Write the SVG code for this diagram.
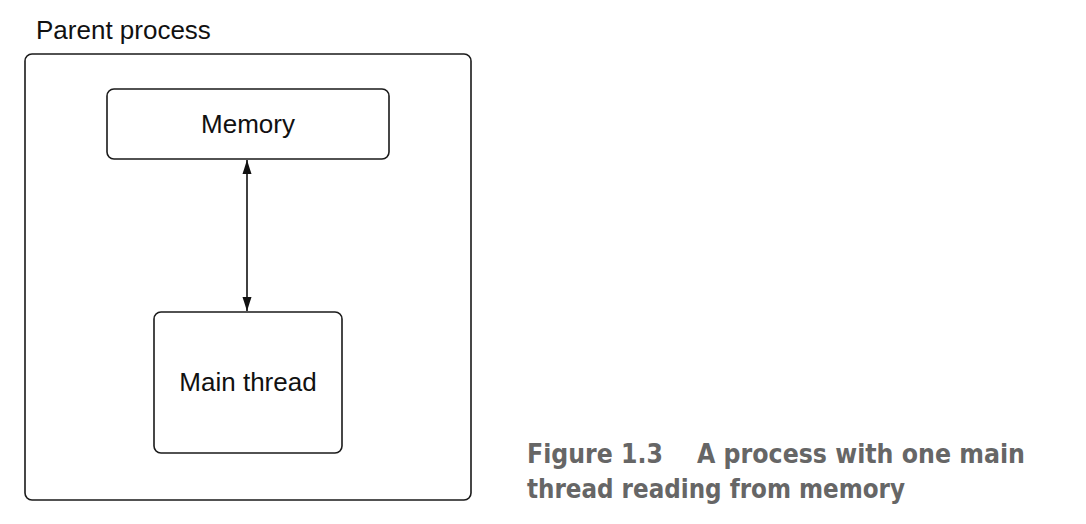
<svg xmlns="http://www.w3.org/2000/svg" width="1086" height="524" viewBox="0 0 1086 524">
<style>
.box{fill:#fff;stroke:#1a1a1a;stroke-width:1.6}
.lbl{font-family:"Liberation Sans",Arial,sans-serif;font-size:26px;fill:#111}
.cap{font-family:"DejaVu Sans Condensed","DejaVu Sans",sans-serif;font-weight:bold;font-size:26px;fill:#666}
.conn{stroke:#111;stroke-width:1.6;fill:none}
</style>
<defs>
<marker id="ah" viewBox="0 0 14 10" refX="14" refY="5" markerWidth="14" markerHeight="10" markerUnits="userSpaceOnUse" orient="auto-start-reverse">
<path d="M0,0.5 L14,5 L0,9.5 Z" fill="#111"/>
</marker>
</defs>
<rect width="1086" height="524" fill="#fff"/>
<g id="parent">
<text class="lbl" x="36" y="39">Parent process</text>
<rect class="box" x="25" y="54" width="446" height="446" rx="7"/>
</g>
<g id="memory">
<rect class="box" x="107" y="89" width="282" height="70" rx="7"/>
<text class="lbl" x="248" y="133" text-anchor="middle">Memory</text>
</g>
<g id="main-thread">
<rect class="box" x="154" y="312" width="188" height="141" rx="7"/>
<text class="lbl" x="248" y="391" text-anchor="middle">Main thread</text>
</g>
<g id="connectors">
<line class="conn" x1="247" y1="160" x2="247" y2="311" marker-start="url(#ah)" marker-end="url(#ah)"/>
</g>
<g id="caption">
<text class="cap" x="527" y="463" textLength="136" lengthAdjust="spacingAndGlyphs">Figure 1.3</text>
<text class="cap" x="697" y="463" textLength="328" lengthAdjust="spacingAndGlyphs">A process with one main</text>
<text class="cap" x="527" y="498" textLength="378" lengthAdjust="spacingAndGlyphs">thread reading from memory</text>
</g>
</svg>
